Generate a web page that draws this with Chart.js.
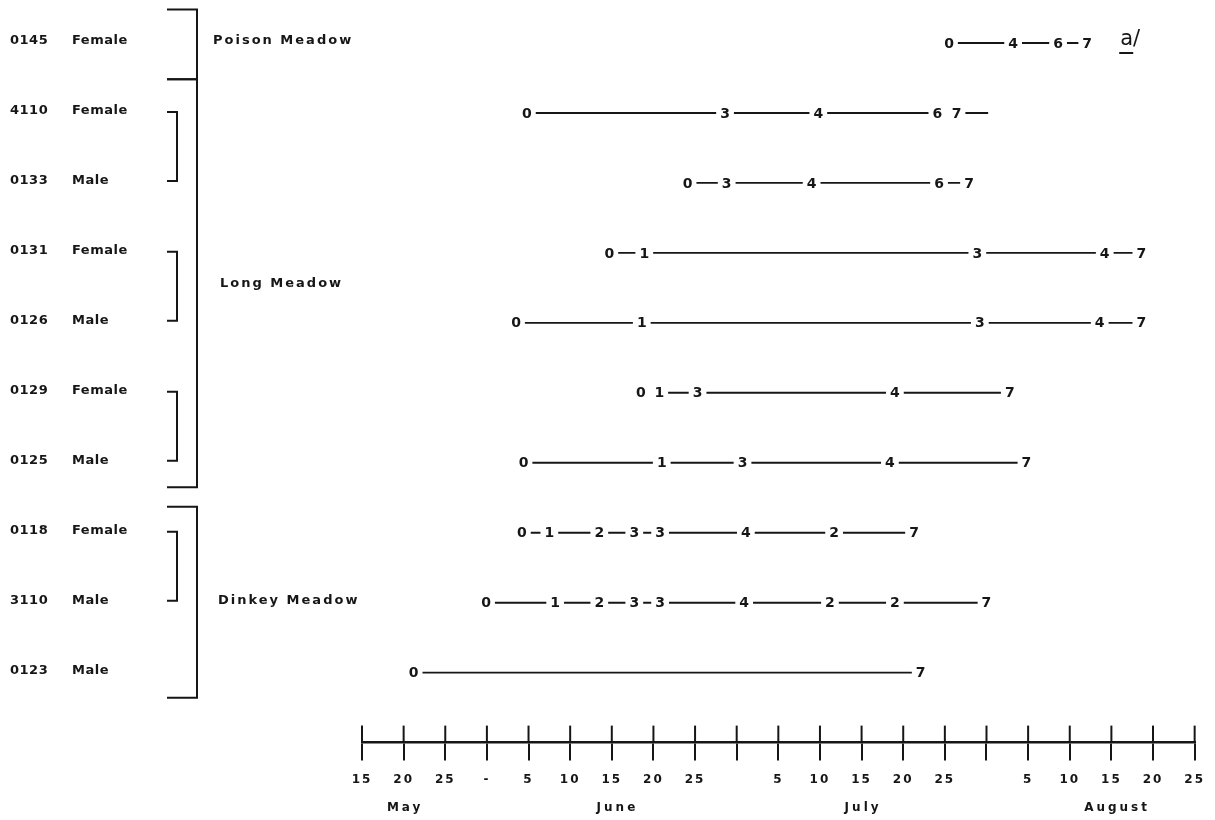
<!DOCTYPE html>
<html lang="en">
<head>
<meta charset="UTF-8">
<title>Stage sequence by animal</title>
<script src="https://cdn.jsdelivr.net/npm/chart.js"></script>
<style>
  html, body { margin: 0; padding: 0; background: #fff; }
  canvas { display: block; }
</style>
</head>
<body>
<canvas id="timeline" width="1215" height="820"></canvas>
<script>
// animals, top to bottom
const animalIds = ['0145', '4110', '0133', '0131', '0126', '0129', '0125', '0118', '3110', '0123'];
const animalSex = ['Female', 'Female', 'Male', 'Female', 'Male', 'Female', 'Male', 'Female', 'Male', 'Male'];

// stage codes along each row and where they sit on the date axis
// (axis units: 0 = 15 May, one tick every 5)
const stageCodes = [
  ['0', '4', '6', '7'],
  ['0', '3', '4', '6', '7', ''],
  ['0', '3', '4', '6', '7'],
  ['0', '1', '3', '4', '7'],
  ['0', '1', '3', '4', '7'],
  ['0', '1', '3', '4', '7'],
  ['0', '1', '3', '4', '7'],
  ['0', '1', '2', '3', '3', '4', '2', '7'],
  ['0', '1', '2', '3', '3', '4', '2', '2', '7'],
  ['0', '7']
];
const stageDays = [
  [70.5, 78.2, 83.6, 87.1],
  [19.8, 43.6, 54.8, 69.1, 71.4, 75.2],
  [39.1, 43.8, 54.0, 69.3, 72.9],
  [29.7, 33.9, 73.9, 89.2, 93.6],
  [18.5, 33.6, 74.2, 88.6, 93.6],
  [33.5, 35.7, 40.3, 64.0, 77.8],
  [19.4, 36.0, 45.7, 63.4, 79.8],
  [19.2, 22.5, 28.5, 32.7, 35.8, 46.1, 56.7, 66.3],
  [14.9, 23.2, 28.5, 32.7, 35.8, 45.9, 56.2, 64.0, 75.0],
  [6.2, 67.1]
];
// 1 = a line joins this code to the next one
const stageLinks = [
  [1, 1, 1],
  [1, 1, 1, 0, 1],
  [1, 1, 1, 1],
  [1, 1, 1, 1],
  [1, 1, 1, 1],
  [0, 1, 1, 1],
  [1, 1, 1, 1],
  [1, 1, 1, 1, 1, 1, 1],
  [1, 1, 1, 1, 1, 1, 1, 1],
  [1]
];

const meadows = ['Poison Meadow', 'Long Meadow', 'Dinkey Meadow'];
const pairRows = [[1, 2], [3, 4], [5, 6], [7, 8]];

const tickLabels = ['15', '20', '25', '-', '5', '10', '15', '20', '25', '', '5', '10', '15', '20', '25', '', '5', '10', '15', '20', '25'];
const months = ['May', 'June', 'July', 'August'];
const monthAt = [5, 30.5, 60, 90.5];

const ink = '#161616';
const fontName = '"DejaVu Sans", sans-serif';

// left side: ids, sex, brackets and meadow names
const sidePanel = {
  id: 'sidePanel',
  beforeDraw(chart) {
    chart.ctx.letterSpacing = '2px';
  },
  afterDraw(chart) {
    const ctx = chart.ctx;
    const y = chart.scales.y;
    const x = chart.scales.x;
    ctx.save();
    ctx.fillStyle = ink;
    ctx.strokeStyle = ink;
    ctx.textBaseline = 'middle';
    ctx.textAlign = 'left';

    ctx.font = 'bold 13px ' + fontName;
    ctx.letterSpacing = '0.5px';
    animalIds.forEach((id, i) => {
      const py = y.getPixelForValue(i);
      ctx.fillText(id, 10, py - 2);
      ctx.fillText(animalSex[i], 72, py - 2);
    });

    // meadow brackets
    const edges = [[-0.48, 0.52], [0.52, 6.35], [6.63, 9.36]];
    ctx.lineWidth = 2;
    edges.forEach(([a, b]) => {
      const t = y.getPixelForValue(a), btm = y.getPixelForValue(b);
      ctx.beginPath();
      ctx.moveTo(167, t);
      ctx.lineTo(197, t);
      ctx.lineTo(197, btm);
      ctx.lineTo(167, btm);
      ctx.stroke();
    });
    // male / female pair brackets
    pairRows.forEach(([a, b]) => {
      const t = y.getPixelForValue(a) - 1, btm = y.getPixelForValue(b) - 2;
      ctx.beginPath();
      ctx.moveTo(167, t);
      ctx.lineTo(177, t);
      ctx.lineTo(177, btm);
      ctx.lineTo(167, btm);
      ctx.stroke();
    });

    ctx.letterSpacing = '2px';
    const meadowRow = [0, 3.47, 8];
    const meadowX = [213, 220, 218];
    meadows.forEach((m, i) => {
      ctx.fillText(m, meadowX[i], y.getPixelForValue(meadowRow[i]) - 2);
    });

    // upper half of the axis ticks
    const bottom = chart.chartArea.bottom;
    ctx.lineWidth = 2;
    x.ticks.forEach((t, i) => {
      const px = x.getPixelForTick(i);
      ctx.beginPath();
      ctx.moveTo(px, bottom - 17);
      ctx.lineTo(px, bottom);
      ctx.stroke();
    });

    // month names
    ctx.font = 'bold 12px ' + fontName;
    ctx.letterSpacing = '3px';
    ctx.textAlign = 'center';
    months.forEach((m, i) => {
      ctx.fillText(m, x.getPixelForValue(monthAt[i]) + 1.5, 808);
    });

    // footnote mark
    const fx = x.getPixelForValue(92.5), fy = y.getPixelForValue(0);
    ctx.font = '21px ' + fontName;
    ctx.letterSpacing = '0px';
    ctx.textAlign = 'left';
    ctx.fillText('a/', fx - 12, fy - 3);
    ctx.lineWidth = 2;
    ctx.beginPath();
    ctx.moveTo(fx - 13, fy + 10);
    ctx.lineTo(fx + 1, fy + 10);
    ctx.stroke();
    ctx.restore();
  }
};

// stage code digits, each with a white gap cut into the line
const stageLabels = {
  id: 'stageLabels',
  afterDatasetsDraw(chart) {
    const ctx = chart.ctx;
    ctx.save();
    ctx.font = 'bold 14px ' + fontName;
    ctx.letterSpacing = '0px';
    ctx.textAlign = 'center';
    ctx.textBaseline = 'middle';
    chart.data.datasets.forEach((ds, r) => {
      chart.getDatasetMeta(r).data.forEach((pt, i) => {
        const txt = stageCodes[r][i];
        if (!txt) return;
        const w = ctx.measureText(txt).width;
        ctx.fillStyle = '#fff';
        ctx.fillRect(pt.x - w / 2 - 4, pt.y - 9, w + 8, 18);
        ctx.fillStyle = ink;
        ctx.fillText(txt, pt.x, pt.y + 1);
      });
    });
    ctx.restore();
  }
};

new Chart(document.getElementById('timeline'), {
  type: 'scatter',
  data: {
    datasets: stageDays.map((days, r) => ({
      label: animalIds[r],
      data: days.map(d => ({ x: d, y: r })),
      showLine: true,
      borderColor: ink,
      borderWidth: 1.9,
      pointRadius: 0,
      segment: {
        borderColor: c => stageLinks[r][c.p0DataIndex] ? ink : 'rgba(0,0,0,0)'
      }
    }))
  },
  options: {
    responsive: false,
    animation: false,
    layout: { padding: { left: 362, right: 16, top: 8, bottom: 21 } },
    plugins: { legend: { display: false }, tooltip: { enabled: false } },
    scales: {
      x: {
        type: 'linear',
        min: 0,
        max: 100,
        border: { display: true, color: ink, width: 2.5 },
        grid: { drawOnChartArea: false, drawTicks: true, tickLength: 18, color: ink, lineWidth: 2 },
        ticks: {
          stepSize: 5,
          autoSkip: false,
          maxRotation: 0,
          padding: 12,
          color: ink,
          font: { family: 'DejaVu Sans', size: 12, weight: 'bold' },
          callback: v => tickLabels[Math.round(v / 5)]
        }
      },
      y: { type: 'linear', display: false, reverse: true, min: -0.5, max: 10 }
    }
  },
  plugins: [sidePanel, stageLabels]
});
</script>
</body>
</html>
